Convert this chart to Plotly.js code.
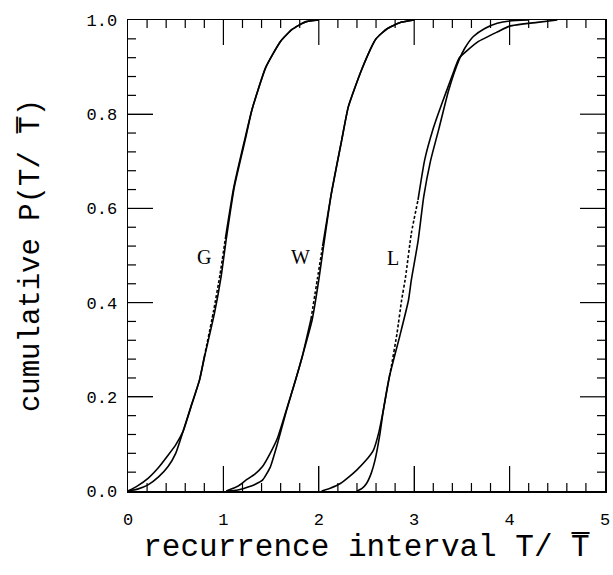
<!DOCTYPE html>
<html>
<head>
<meta charset="utf-8">
<script src="https://cdn.plot.ly/plotly-3.0.1.min.js"></script>
<style>html,body{margin:0;padding:0;background:#fff;}#chart{width:613px;height:575px;}</style>
</head>
<body>
<div id="chart"></div>
<script>
// ---- data ----
const gDataX = [0, 0.1, 0.21, 0.32, 0.42, 0.5, 0.576, 0.66, 0.75, 0.80, 0.906, 0.976, 1.03, 1.115, 1.236, 1.30, 1.445, 1.6, 1.72, 1.86, 2.0];
const gDataY = [0, 0.004, 0.013, 0.03, 0.052, 0.08, 0.126, 0.18, 0.236, 0.283, 0.377, 0.455, 0.535, 0.646, 0.752, 0.81, 0.90, 0.955, 0.98, 0.996, 1.0];
const gFitX  = [0, 0.1, 0.21, 0.32, 0.42, 0.5, 0.576, 0.66, 0.75, 0.80, 0.895, 0.965, 1.02, 1.11, 1.23, 1.30, 1.445, 1.6, 1.72, 1.86, 2.0];
const gFitY  = [0, 0.011, 0.027, 0.05, 0.076, 0.098, 0.126, 0.178, 0.236, 0.285, 0.38, 0.46, 0.535, 0.646, 0.752, 0.81, 0.90, 0.955, 0.98, 0.996, 1.0];

const wDataX = [1.03, 1.15, 1.236, 1.33, 1.41, 1.49, 1.566, 1.66, 1.757, 1.826, 1.93, 2.0, 2.05, 2.13, 2.24, 2.31, 2.45, 2.6, 2.72, 2.86, 3.0];
const wDataY = [0, 0.002, 0.007, 0.014, 0.023, 0.05, 0.10, 0.17, 0.236, 0.285, 0.363, 0.448, 0.52, 0.63, 0.745, 0.816, 0.895, 0.96, 0.982, 0.995, 1.0];
const wFitX  = [1.03, 1.15, 1.236, 1.33, 1.41, 1.49, 1.566, 1.66, 1.757, 1.826, 1.918, 1.985, 2.04, 2.13, 2.24, 2.31, 2.45, 2.6, 2.72, 2.86, 3.0];
const wFitY  = [0, 0.01, 0.023, 0.036, 0.052, 0.08, 0.112, 0.172, 0.236, 0.285, 0.365, 0.45, 0.52, 0.63, 0.745, 0.816, 0.895, 0.96, 0.982, 0.995, 1.0];

const lDataX = [2.40, 2.45, 2.50, 2.55, 2.59, 2.64, 2.677, 2.74, 2.85, 2.94, 2.97, 3.04, 3.10, 3.17, 3.26, 3.36, 3.47, 3.53, 3.62, 3.74, 3.87, 4.0, 4.2];
const lDataY = [0, 0.005, 0.016, 0.038, 0.066, 0.12, 0.172, 0.243, 0.33, 0.405, 0.448, 0.53, 0.625, 0.70, 0.77, 0.85, 0.915, 0.94, 0.965, 0.982, 0.993, 0.998, 1.0];
const lFitX  = [2.03, 2.12, 2.226, 2.31, 2.40, 2.49, 2.573, 2.63, 2.677, 2.74, 2.76, 2.82, 2.868, 2.91, 2.97, 3.04, 3.11, 3.2, 3.25, 3.34, 3.42, 3.47, 3.56, 3.67, 3.875, 4.0, 4.29, 4.5];
const lFitY  = [0, 0.006, 0.016, 0.029, 0.045, 0.064, 0.087, 0.125, 0.172, 0.243, 0.264, 0.335, 0.405, 0.455, 0.547, 0.618, 0.703, 0.77, 0.80, 0.85, 0.894, 0.919, 0.936, 0.954, 0.975, 0.987, 0.995, 1.0];

const groupNames = ["G", "W", "L"];
const labelX = [0.80, 1.81, 2.78];
const labelY = [0.497, 0.497, 0.494];
const xTickVals = [0, 1, 2, 3, 4, 5];
const xTickText = ["0", "1", "2", "3", "4", "5"];
const yTickVals = [0, 0.2, 0.4, 0.6, 0.8, 1.0];
const yTickText = ["0.0", "0.2", "0.4", "0.6", "0.8", "1.0"];
const xMinorStep = 0.2;
const yMinorStep = 0.04;

// ---- layout geometry ----
const W = 613, H = 575;
const M = {l: 128, r: 8, t: 20, b: 84};
const XR = [0, 5], YR = [0, 1];
const MAJLEN = 25, MINLEN = 8;
const FONT = "Liberation Mono";
const LW = 1.6;

// ---- curves ----
const groups = [
  {dx: gDataX, dy: gDataY, fx: gFitX, fy: gFitY, lo: 0.30, hi: 0.58},
  {dx: wDataX, dy: wDataY, fx: wFitX, fy: wFitY, lo: 0.40, hi: 0.56},
  {dx: lDataX, dy: lDataY, fx: lFitX, fy: lFitY, lo: 0.25, hi: 0.65}
];

// tick marks on all four sides, converted from pixel lengths to axis units
const pxPerX = (W - M.l - M.r) / (XR[1] - XR[0]);
const pxPerY = (H - M.t - M.b) / (YR[1] - YR[0]);
const tx = [], ty = [];
function near(a, b) { return Math.abs(a - b) < 1e-9; }
function addXTick(v, len) {
  const d = len / pxPerY;
  tx.push(v, v, null, v, v, null);
  ty.push(YR[0], YR[0] + d, null, YR[1], YR[1] - d, null);
}
function addYTick(v, len) {
  const d = len / pxPerX;
  tx.push(XR[0], XR[0] + d, null, XR[1], XR[1] - d, null);
  ty.push(v, v, null, v, v, null);
}
for (let i = 1; i * xMinorStep < XR[1] - 1e-9; i++) {
  const v = +(i * xMinorStep).toFixed(6);
  addXTick(v, xTickVals.some(m => near(m, v)) ? MAJLEN : MINLEN);
}
for (let i = 1; i * yMinorStep < YR[1] - 1e-9; i++) {
  const v = +(i * yMinorStep).toFixed(6);
  addYTick(v, yTickVals.some(m => near(m, v)) ? MAJLEN : MINLEN);
}

const traces = [{x: tx, y: ty, mode: "lines", line: {color: "#000", width: 1.2}, hoverinfo: "skip", connectgaps: false, name: "ticks"}];
groups.forEach((g, k) => {
  traces.push({x: g.dx, y: g.dy, mode: "lines", line: {color: "#000", width: LW, shape: "spline", smoothing: 0.5}, hoverinfo: "skip", name: groupNames[k] + " data"});
  const i1 = g.fy.findIndex(v => v > g.lo);
  const i2 = g.fy.findIndex(v => v > g.hi);
  const parts = [
    [g.fx.slice(0, i1), g.fy.slice(0, i1), "solid"],
    [g.fx.slice(i1 - 1, i2), g.fy.slice(i1 - 1, i2), "3px,2px"],
    [g.fx.slice(i2 - 1), g.fy.slice(i2 - 1), "solid"]
  ];
  parts.forEach(p => traces.push({x: p[0], y: p[1], mode: "lines", line: {color: "#000", width: LW, dash: p[2], shape: "spline", smoothing: 0.5}, hoverinfo: "skip", name: groupNames[k] + " fit"}));
});

const annotations = groupNames.map((n, i) => ({
  x: labelX[i], y: labelY[i], xref: "x", yref: "y", text: n, showarrow: false,
  font: {family: "Liberation Serif", size: 20, color: "#000"}
}));

const axisCommon = {
  showgrid: false, zeroline: false, showline: true, linecolor: "#000", linewidth: 1.5,
  mirror: true, ticks: "inside", ticklen: MAJLEN, tickwidth: 1.2, tickcolor: "#000",
  tickfont: {family: FONT, size: 17, color: "#000"}, fixedrange: true, automargin: false
};

const layout = {
  width: W, height: H,
  margin: M,
  paper_bgcolor: "#fff", plot_bgcolor: "#fff",
  showlegend: false,
  xaxis: Object.assign({}, axisCommon, {
    range: XR, tickmode: "array", tickvals: xTickVals, ticktext: xTickText,
    ticklabelstandoff: 12,
    title: {text: "recurrence interval T/ T\u0305", font: {family: FONT, size: 31, color: "#000"}, standoff: 4}
  }),
  yaxis: Object.assign({}, axisCommon, {
    range: YR, tickmode: "array", tickvals: yTickVals, ticktext: yTickText,
    ticklabelstandoff: 6,
    title: {text: "cumulative P(T/ T\u0305)", font: {family: FONT, size: 29, color: "#000"}, standoff: 38}
  }),
  annotations: annotations
};

Plotly.newPlot("chart", traces, layout, {staticPlot: true, displayModeBar: false});
</script>
</body>
</html>
